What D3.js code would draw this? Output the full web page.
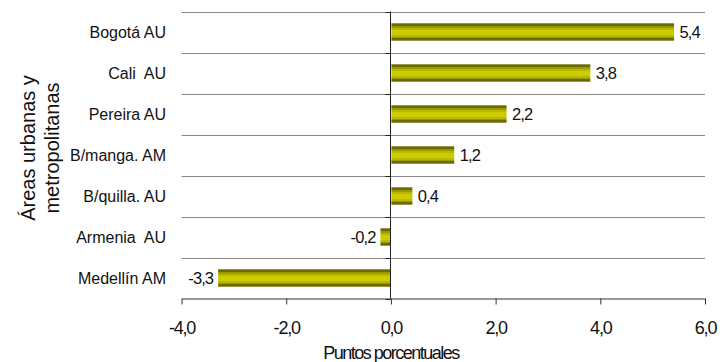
<!DOCTYPE html>
<html>
<head>
<meta charset="utf-8">
<script src="https://cdn.jsdelivr.net/npm/d3@7"></script>
<style>
  html, body { margin: 0; padding: 0; background: #fff; }
  svg { display: block; font-family: "Liberation Sans", Arial, sans-serif; }
</style>
</head>
<body>
<svg id="chart" width="727" height="362"></svg>
<script>
const categories = ["Bogotá AU", "Cali  AU", "Pereira AU", "B/manga. AM", "B/quilla. AU", "Armenia  AU", "Medellín AM"];
const values = [5.4, 3.8, 2.2, 1.2, 0.4, -0.2, -3.3];
const valueLabels = ["5,4", "3,8", "2,2", "1,2", "0,4", "-0,2", "-3,3"];
const xTicks = [-4, -2, 0, 2, 4, 6];
const xTickLabels = ["-4,0", "-2,0", "0,0", "2,0", "4,0", "6,0"];
const xTitle = "Puntos porcentuales";
const yTitle = ["Áreas urbanas y", "metropolitanas"];

const svg = d3.select("#chart");
const mLeft = 181.5, mRight = 705, mTop = 11.5, mBottom = 298.5;

const x = d3.scaleLinear().domain([-4, 6]).range([mLeft, mRight]);
const y = d3.scaleBand().domain(categories).range([mTop, mBottom])
  .paddingInner(0.575).paddingOuter(0.2875);

// gradient for bars
const defs = svg.append("defs");
const grad = defs.append("linearGradient").attr("id", "barGrad")
  .attr("x1", 0).attr("y1", 0).attr("x2", 0).attr("y2", 1);
const stops = [
  [0, "#6b6b00"], [0.13, "#6b6b00"], [0.13, "#999900"], [0.27, "#999900"],
  [0.27, "#b8b800"], [0.38, "#b8b800"], [0.38, "#cccc00"], [0.68, "#cccc00"],
  [0.68, "#b8b800"], [0.77, "#b8b800"], [0.77, "#999900"], [0.87, "#999900"],
  [0.87, "#6b6b00"], [1, "#6b6b00"]
];
stops.forEach(s => grad.append("stop").attr("offset", s[0]).attr("stop-color", s[1]));

// horizontal gridlines at band boundaries
const step = y.step();
const bounds = categories.map((c, i) => mTop + i * step);
svg.append("g").selectAll("line").data(bounds).join("line")
  .attr("x1", mLeft).attr("x2", mRight)
  .attr("y1", d => Math.round(d) + 0.5).attr("y2", d => Math.round(d) + 0.5)
  .attr("stroke", "#868686").attr("stroke-width", 1);

// bars
svg.append("g").selectAll("rect").data(categories).join("rect")
  .attr("x", (d, i) => Math.min(x(0), x(values[i])) + (values[i] >= 0 ? 0.5 : 0))
  .attr("y", d => y(d))
  .attr("width", (d, i) => Math.abs(x(values[i]) - x(0)))
  .attr("height", y.bandwidth())
  .attr("fill", "url(#barGrad)");

// zero line (category axis)
const x0 = Math.round(x(0)) - 0.5;
svg.append("line").attr("x1", x0).attr("x2", x0).attr("y1", mTop).attr("y2", mBottom)
  .attr("stroke", "#222").attr("stroke-width", 1);
svg.append("g").selectAll("line").data(bounds.concat([mBottom])).join("line")
  .attr("x1", x0 - 5).attr("x2", x0)
  .attr("y1", d => Math.round(d) + 0.5).attr("y2", d => Math.round(d) + 0.5)
  .attr("stroke", "#222");

// bottom axis
const xAxis = d3.axisBottom(x).tickValues(xTicks).tickSize(6).tickSizeOuter(0)
  .tickFormat((d, i) => xTickLabels[i]);
const gx = svg.append("g").attr("transform", `translate(0,${mBottom})`).call(xAxis);
gx.select(".domain").attr("stroke", "#333");
gx.selectAll(".tick line").attr("stroke", "#333");
gx.selectAll(".tick text")
  .attr("y", 35).attr("dy", 0)
  .attr("fill", "#111")
  .style("font-family", "'Liberation Sans', Arial, sans-serif")
  .style("font-size", "18px")
  .style("letter-spacing", "-1.2px");

// category labels
svg.append("g").selectAll("text").data(categories).join("text")
  .attr("x", 166)
  .attr("y", d => y(d) + y.bandwidth() / 2)
  .attr("dy", "0.36em")
  .attr("text-anchor", "end")
  .style("white-space", "pre")
  .style("font-size", "16px")
  .attr("fill", "#111")
  .text(d => d);

// value labels
svg.append("g").selectAll("text").data(categories).join("text")
  .attr("x", (d, i) => values[i] >= 0 ? x(values[i]) + 6 : x(values[i]) - 5)
  .attr("y", d => y(d) + y.bandwidth() / 2)
  .attr("dy", "0.36em")
  .attr("text-anchor", (d, i) => values[i] >= 0 ? "start" : "end")
  .style("font-size", "16.5px")
  .style("letter-spacing", "-0.9px")
  .attr("fill", "#111")
  .text((d, i) => valueLabels[i]);

// x title
svg.append("text")
  .attr("x", 391).attr("y", 359)
  .attr("text-anchor", "middle")
  .style("font-size", "18px")
  .style("letter-spacing", "-1.5px")
  .attr("fill", "#111")
  .text(xTitle);

// y title
const yt = svg.append("text")
  .attr("transform", "translate(35,148) rotate(-90)")
  .attr("text-anchor", "middle")
  .style("font-size", "20px")
  .attr("fill", "#111");
yTitle.forEach((t, i) => yt.append("tspan").attr("x", 0).attr("dy", i === 0 ? 0 : 24).text(t));
</script>
</body>
</html>
